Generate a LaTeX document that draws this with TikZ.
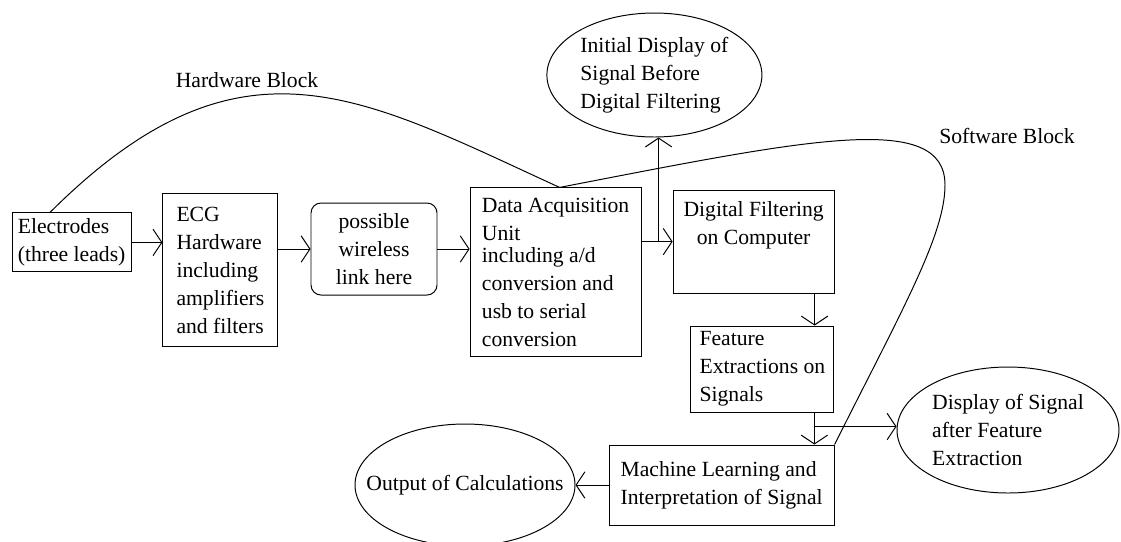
\documentclass[tikz,border=0pt]{standalone}
\usepackage{fontspec}
\setmainfont{Liberation Serif}
\usetikzlibrary{arrows.meta,shapes.geometric}

\begin{document}
\begin{tikzpicture}[line width=.7pt,>={Straight Barb[length=.22cm,width=.66cm]},
		every node/.style={font=\fontsize{15.4}{19.9}\selectfont},
		block/.style={draw,align=left,inner sep=0pt},
		oval/.style={draw,ellipse,align=left,inner xsep=-.6cm,inner ysep=0pt}]
	\useasboundingbox (0,0) rectangle (28.025,-13.525);
	% hardware chain
	\node[block,minimum width=2.975cm,minimum height=1.475cm] (elec) at (1.79,-6.06) {Electrodes\\(three leads)};
	\node[block,minimum width=2.875cm,minimum height=3.825cm] (ecg) at (5.51,-6.76) {ECG\\Hardware\\including\\amplifiers\\and filters};
	\node[block,align=center,rounded corners=.25cm,minimum width=3.15cm,minimum height=2.3cm] (wless) at (9.35,-6.225) {possible\\wireless\\link here};
	\node[block,minimum width=4.275cm,minimum height=4.225cm] (daq) at (13.89,-6.81) {Data Acquisition\\Unit\\[-.125cm]including a/d\\conversion and\\usb to serial\\conversion};
	% software chain
	\node[block,align=center,minimum width=4.025cm,inner ysep=.25cm,text height=1.1cm,text depth=.975cm] (df) at (18.84,-6.04) {Digital Filtering\\on Computer};
	\node[block,minimum width=3.575cm,minimum height=2.15cm] (feat) at (19.06,-9.225) {Feature\\Extractions on\\Signals};
	\node[block,minimum width=5.625cm,minimum height=2cm] (ml) at (18.04,-12.125) {Machine Learning and\\Interpretation of Signal};
	% displays and output
	\node[oval,minimum width=5.375cm,minimum height=3.1cm] (init) at (16.36,-1.875) {Initial Display of\\Signal Before\\Digital Filtering};
	\node[oval,minimum width=5.55cm,minimum height=3.15cm] (disp) at (25.2,-10.75) {Display of Signal\\after Feature\\Extraction};
	\node[oval,minimum width=5.5cm,minimum height=3.05cm] (out) at (11.625,-12.125) {Output of Calculations};
	\node (hwlabel) at (6.175,-2) {Hardware Block};
	\node (swlabel) at (25.175,-3.4) {Software Block};

	\draw[->] (elec.east) -- (elec.east -| ecg.west);
	\foreach \a/\b in {ecg/wless,daq/df}
	{\draw[->] (\b.west -| \a.east) -- (\b.west);}
	\draw[->] (wless.east) -- (wless.east -| daq.west);
	\path (daq.east |- df.west) ++(.425,0) coordinate (tap1);
	\draw[->] (tap1) -- (tap1 |- init.south);
	\path (df.south east) ++(-.5,0) coordinate (d1);
	\draw[->] (d1) -- (d1 |- feat.north);
	\path (feat.south east) ++(-.5,0) coordinate (d2);
	\draw[->] (d2) -- (d2 |- ml.north);
	\path (d2) ++(0,-.35) coordinate (tap2);
	\draw[->] (tap2) -- (tap2 -| disp.west);
	\draw[->] (ml.west) -- (out.east);

	% block outlines
	\coordinate (join) at ([xshift=.1cm]daq.north);
	\draw ([xshift=-.54cm]elec.north) .. controls (6,-.575) and (9,-2.4) .. (join);
	\draw (join) .. controls (20.125,-3.5) and (23.625,-2.75) .. (23.625,-4.625)
		.. controls (23.625,-5.875) and (22.54,-7.77) .. (ml.north east);
\end{tikzpicture}
\end{document}
